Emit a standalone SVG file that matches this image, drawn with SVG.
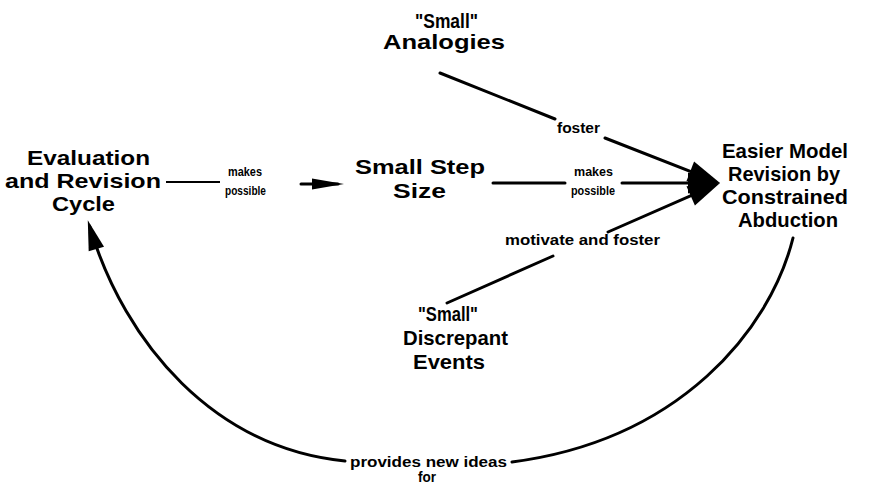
<svg xmlns="http://www.w3.org/2000/svg" width="877" height="487" viewBox="0 0 877 487">
<style>
.n{font-family:"Liberation Sans",Arial,Helvetica,sans-serif;font-weight:bold;font-size:21px;fill:#000}
.l{font-family:"Liberation Sans",Arial,Helvetica,sans-serif;font-weight:bold;font-size:14px;fill:#000}
.s{font-family:"Liberation Sans",Arial,Helvetica,sans-serif;font-weight:bold;font-size:13px;fill:#000}
.c{fill:none;stroke:#000;stroke-width:3;stroke-linecap:round}
.t{fill:none;stroke:#000;stroke-width:2}
</style>
<defs>
<marker id="big" viewBox="-26 -12 36 24" markerWidth="36" markerHeight="24" refX="0" refY="0" orient="auto" markerUnits="userSpaceOnUse">
<path d="M8,0 L-24,-10.5 L-24,10.5 Z" fill="#000"/>
</marker>
<marker id="thin" viewBox="-28 -8 36 16" markerWidth="36" markerHeight="16" refX="0" refY="0" orient="auto" markerUnits="userSpaceOnUse">
<path d="M6,0 L-26,-5.5 L-26,5.5 Z" fill="#000"/>
</marker>
<marker id="curve" viewBox="-28 -9 36 18" markerWidth="36" markerHeight="18" refX="0" refY="0" orient="auto" markerUnits="userSpaceOnUse">
<path d="M6,0 L-24,-8 L-24,8 Z" fill="#000"/>
</marker>
</defs>
<g id="connectors">
<path class="t" d="M166,182 L220,182"/>
<path class="c" d="M301,184 L338,184" marker-end="url(#thin)"/>
<path class="c" d="M493,183 L565,183 M622,183 L712,183" marker-end="url(#big)"/>
<path class="c" d="M440,73 L555,119 M605,138 L712.6,180.1" marker-end="url(#big)"/>
<path class="c" d="M447,303 L553,256 M608,232 L712.7,186.2" marker-end="url(#big)"/>
<path class="c" d="M793,238 C770,330 680,440 512,462 M345,461 C215,448 125,345 89.5,226" marker-end="url(#curve)"/>
<text class="s" x="228" y="176" textLength="34" lengthAdjust="spacingAndGlyphs">makes</text>
<text class="s" x="225" y="195" textLength="41" lengthAdjust="spacingAndGlyphs">possible</text>
<text class="s" x="574" y="176" textLength="39" lengthAdjust="spacingAndGlyphs">makes</text>
<text class="s" x="571" y="195" textLength="44" lengthAdjust="spacingAndGlyphs">possible</text>
<text class="l" x="557" y="133" textLength="43" lengthAdjust="spacingAndGlyphs">foster</text>
<text class="l" x="505" y="245" textLength="155" lengthAdjust="spacingAndGlyphs">motivate and foster</text>
<text class="l" x="350" y="467" textLength="157" lengthAdjust="spacingAndGlyphs">provides new ideas</text>
<text class="l" x="418" y="482" textLength="18" lengthAdjust="spacingAndGlyphs">for</text>
</g>
<g id="analogies">
<text class="n" x="415" y="28" textLength="63" lengthAdjust="spacingAndGlyphs">"Small"</text>
<text class="n" x="383" y="49" textLength="122" lengthAdjust="spacingAndGlyphs">Analogies</text>
</g>
<g id="evaluation">
<text class="n" x="27" y="165" textLength="123" lengthAdjust="spacingAndGlyphs">Evaluation</text>
<text class="n" x="5" y="188" textLength="156" lengthAdjust="spacingAndGlyphs">and Revision</text>
<text class="n" x="52" y="211" textLength="63" lengthAdjust="spacingAndGlyphs">Cycle</text>
</g>
<g id="stepsize">
<text class="n" x="355" y="174" textLength="130" lengthAdjust="spacingAndGlyphs">Small Step</text>
<text class="n" x="393" y="198" textLength="53" lengthAdjust="spacingAndGlyphs">Size</text>
</g>
<g id="revision">
<text class="n" x="722" y="158" textLength="126" lengthAdjust="spacingAndGlyphs">Easier Model</text>
<text class="n" x="728" y="181" textLength="112" lengthAdjust="spacingAndGlyphs">Revision by</text>
<text class="n" x="722" y="204" textLength="126" lengthAdjust="spacingAndGlyphs">Constrained</text>
<text class="n" x="738" y="227" textLength="100" lengthAdjust="spacingAndGlyphs">Abduction</text>
</g>
<g id="discrepant">
<text class="n" x="418" y="321" textLength="60" lengthAdjust="spacingAndGlyphs">"Small"</text>
<text class="n" x="403" y="345" textLength="105" lengthAdjust="spacingAndGlyphs">Discrepant</text>
<text class="n" x="413" y="369" textLength="72" lengthAdjust="spacingAndGlyphs">Events</text>
</g>
</svg>
